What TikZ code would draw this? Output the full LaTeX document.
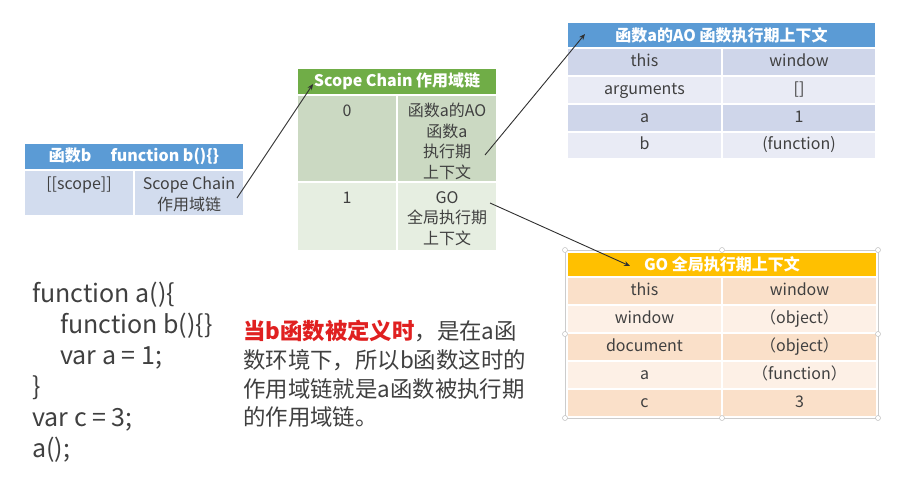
\documentclass[tikz,border=0pt]{standalone}
\usepackage{fontspec}
\setmainfont{Noto Sans CJK SC}
\usetikzlibrary{arrows.meta}
\definecolor{txt}{HTML}{404040}
\definecolor{bluehd}{HTML}{5B9BD5}
\definecolor{bluedk}{HTML}{CFD6EA}
\definecolor{bluelt}{HTML}{E9EBF5}
\definecolor{bluebody}{HTML}{D2DCEE}
\definecolor{greenhd}{HTML}{70AD47}
\definecolor{greendk}{HTML}{CBD9C2}
\definecolor{greenlt}{HTML}{E6EEE1}
\definecolor{orghd}{HTML}{FFC000}
\definecolor{orgdk}{HTML}{FAE0C9}
\definecolor{orglt}{HTML}{FDF0E6}
\definecolor{redtxt}{HTML}{E02020}
\definecolor{arrowc}{HTML}{303030}
\newcommand\tcell[7]{\node[cellbox,fill=#6,minimum width={(#4-#2)*1pt},minimum height={(#5-#3)*1pt}] (#1) at ({(#2+#4)/2},{(#3+#5)/2}) {#7};}
\begin{document}
\begin{tikzpicture}[x=1pt,y=-1pt,
  cellbox/.style={draw=white,line width=1.2pt,inner sep=0pt,outer sep=0pt,text=txt,
    font=\fontsize{16}{20.5}\selectfont,text height=12pt,text depth=3.5pt},
  hdtext/.style={text=white,font=\bfseries\fontsize{16}{20}\selectfont},
  celltext/.style={text=txt,inner sep=0pt,align=center,font=\fontsize{16}{20.5}\selectfont},
  codeline/.style={anchor=base west,inner sep=0pt,text=txt,font=\fontsize{25}{31}\selectfont},
  expl/.style={anchor=base west,inner sep=0pt,text=txt,font=\fontsize{22.4}{29}\selectfont},
  conn/.style={draw=arrowc,line width=0.9pt,-{Stealth[length=6pt,width=5pt]}},
  handle/.style={circle,draw=gray!50,fill=white,line width=0.5pt,inner sep=0pt,minimum size=5pt}]
\useasboundingbox (0,0) rectangle (898,490);
\fill[white] (0,0) rectangle (898,490);

% ---- function b table
\tcell{bh}{24}{143}{244}{170}{bluehd}{}
\node[hdtext] (bht) at (bh.center) {函数b\hspace{1.2em}function b()\{\}};
\tcell{b1}{24}{170}{134}{216}{bluebody}{}
\tcell{b2}{134}{170}{244}{216}{bluebody}{}
\node[celltext,anchor=north] (b1t) at (79,177) {[[scope]]};
\node[celltext,anchor=north] (b2t) at (189,177) {Scope Chain\\作用域链};

% ---- scope chain table
\tcell{sh}{297}{68}{497}{95}{greenhd}{}
\node[hdtext] (sht) at (sh.center) {Scope Chain 作用域链};
\tcell{s01}{297}{95}{397}{182}{greendk}{}
\tcell{s02}{397}{95}{497}{182}{greendk}{}
\tcell{s11}{297}{182}{397}{251}{greenlt}{}
\tcell{s12}{397}{182}{497}{251}{greenlt}{}
\node[celltext,anchor=north] (s01t) at (347,105) {0};
\node[celltext,anchor=north] (s02t) at (447,103) {函数a的AO\\函数a\\执行期\\上下文};
\node[celltext,anchor=north] (s11t) at (347,192) {1};
\node[celltext,anchor=north] (s12t) at (447,191) {GO\\全局执行期\\上下文};

% ---- AO table
\tcell{ah}{567}{22}{876}{48}{bluehd}{}
\node[hdtext] (aht) at (ah.center) {函数a的AO 函数执行期上下文};
\tcell{a11}{567}{48}{722}{76}{bluedk}{this}
\tcell{a12}{722}{48}{876}{76}{bluedk}{window}
\tcell{a21}{567}{76}{722}{104}{bluelt}{arguments}
\tcell{a22}{722}{76}{876}{104}{bluelt}{[]}
\tcell{a31}{567}{104}{722}{132}{bluedk}{a}
\tcell{a32}{722}{104}{876}{132}{bluedk}{1}
\tcell{a41}{567}{132}{722}{159}{bluelt}{b}
\tcell{a42}{722}{132}{876}{159}{bluelt}{(function)}

% ---- GO table
\draw[gray!40,line width=0.6pt] (565,250) rectangle (878,418);
\tcell{gh}{567}{252}{877}{277}{orghd}{}
\node[hdtext] (ght) at (gh.center) {GO 全局执行期上下文};
\tcell{g11}{567}{277}{722}{305}{orgdk}{this}
\tcell{g12}{722}{277}{877}{305}{orgdk}{window}
\tcell{g21}{567}{305}{722}{333}{orglt}{window}
\tcell{g22}{722}{305}{877}{333}{orglt}{（object）}
\tcell{g31}{567}{333}{722}{361}{orgdk}{document}
\tcell{g32}{722}{333}{877}{361}{orgdk}{（object）}
\tcell{g41}{567}{361}{722}{389}{orglt}{a}
\tcell{g42}{722}{361}{877}{389}{orglt}{（function）}
\tcell{g51}{567}{389}{722}{417}{orgdk}{c}
\tcell{g52}{722}{389}{877}{417}{orgdk}{3}
\foreach \hx/\hy in {565/250,722/250,878/250,565/334,878/334,565/418,722/418,878/418}
  \node[handle] at (\hx,\hy) {};

% ---- connectors
\coordinate (c1s) at (237,198);
\coordinate (c1e) at (313,84);
\coordinate (c2s) at (485,155);
\coordinate (c2e) at (585,34);
\coordinate (c3s) at (490,203);
\coordinate (c3e) at (630,266);
\draw[conn] (c1s) -- (c1e);
\draw[conn] (c2s) -- (c2e);
\draw[conn] (c3s) -- (c3e);

% ---- code
\node[codeline] (l1) at (32,302) {function a()\{};
\node[codeline] (l2) at (60,333) {function b()\{\}};
\node[codeline] (l3) at (60,364) {var a = 1;};
\node[codeline] (l4) at (32,395) {\}};
\node[codeline] (l5) at (32,426) {var c = 3;};
\node[codeline] (l6) at (32,457) {a();};

% ---- explanation
\node[expl] (e1) at (243,339) {\textcolor{redtxt}{\bfseries 当b函数被定义时}，是在a函};
\node[expl] (e2) at (243,368) {数环境下，所以b函数这时的};
\node[expl] (e3) at (243,397) {作用域链就是a函数被执行期};
\node[expl] (e4) at (243,425) {的作用域链。};
\end{tikzpicture}
\end{document}
